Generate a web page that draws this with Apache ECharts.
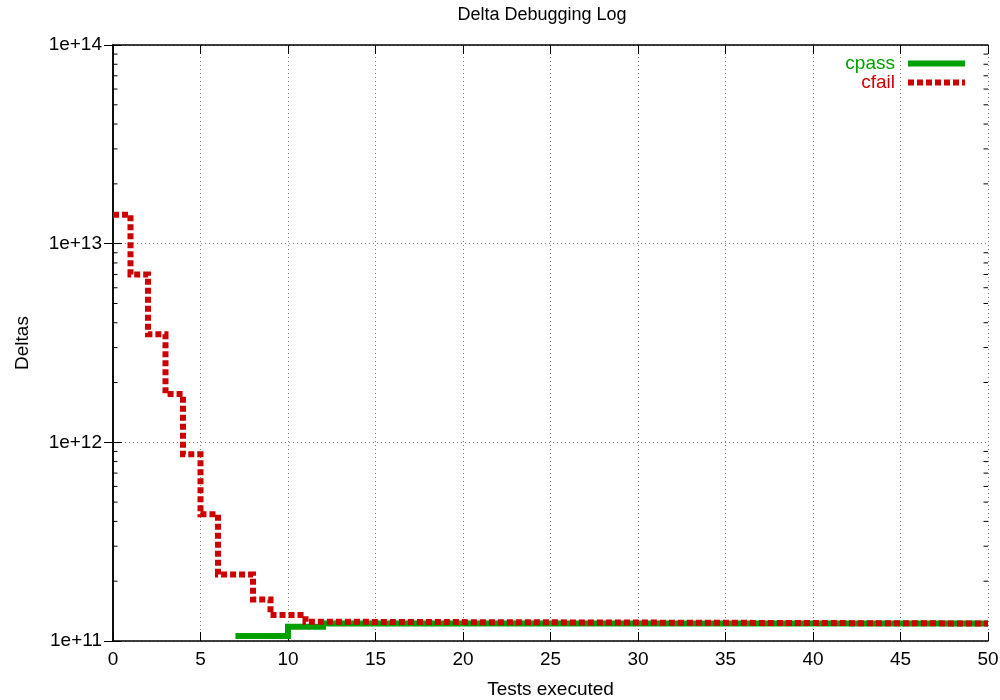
<!DOCTYPE html>
<html>
<head>
<meta charset="utf-8">
<script src="https://cdn.jsdelivr.net/npm/echarts@6/dist/echarts.min.js"></script>
<style>html,body{margin:0;padding:0;background:#fff;}#c{width:1000px;height:700px;}</style>
</head>
<body>
<div id="c"></div>
<script>
// Data (step plot, value holds until next x)
const cpassX = [7, 8, 9, 10, 11, 12, 50];
const cpassY = [1.06e11, 1.06e11, 1.06e11, 1.18e11, 1.18e11, 1.225e11, 1.225e11];
const cfailX = [0, 1, 2, 3, 4, 5, 6, 7, 8, 9, 10, 11, 12, 50];
const cfailY = [1.4e13, 7.0e12, 3.5e12, 1.75e12, 8.7e11, 4.35e11, 2.16e11, 2.16e11, 1.62e11, 1.35e11, 1.35e11, 1.25e11, 1.225e11, 1.225e11];
const minorTickValues = [2e11,3e11,4e11,5e11,6e11,7e11,8e11,9e11,
                         2e12,3e12,4e12,5e12,6e12,7e12,8e12,9e12,
                         2e13,3e13,4e13,5e13,6e13,7e13,8e13,9e13];
const seriesNames = ['cpass', 'cfail'];
const colors = {cpass: '#00a000', cfail: '#cc0000'};

const FONT = 'Liberation Sans';
const FS = 19;

const chart = echarts.init(document.getElementById('c'), null, {renderer: 'canvas'});

const pairs = (xs, ys) => xs.map((x, i) => [x, ys[i]]);

const xBase = {
  type: 'value', min: 0, max: 50, interval: 5,
  axisLine: {show: true, lineStyle: {color: '#000', width: 1.5}},
  axisTick: {show: true, inside: true, length: 9, lineStyle: {color: '#000', width: 1}}
};
const yBase = {
  type: 'log', logBase: 10, min: 1e11, max: 1e14,
  axisLine: {show: true, lineStyle: {color: '#000', width: 1.5}},
  axisTick: {show: true, inside: true, length: 9, lineStyle: {color: '#000', width: 1}}
};

chart.setOption({
  backgroundColor: '#fff',
  animation: false,
  title: {
    text: 'Delta Debugging Log', left: 542, top: 6, textAlign: 'center', padding: 0,
    textStyle: {fontFamily: FONT, fontSize: 18, fontWeight: 'normal', color: '#000'}
  },
  legend: {
    orient: 'vertical', right: 27, top: 49, align: 'right',
    itemWidth: 57, itemHeight: 14, itemGap: 0,
    textStyle: {fontFamily: FONT, fontSize: FS, padding: [0, 8, 0, 0]},
    lineStyle: {width: 6},
    itemStyle: {opacity: 0},
    data: seriesNames.map(n => ({name: n, textStyle: {color: colors[n]}}))
  },
  grid: {left: 113, right: 12, top: 45, bottom: 59, containLabel: false, outerBoundsMode: 'none'},
  xAxis: [
    Object.assign({}, xBase, {
      position: 'bottom',
      name: 'Tests executed', nameLocation: 'middle', nameGap: 39,
      nameTextStyle: {fontFamily: FONT, fontSize: FS, color: '#000'},
      axisLabel: {fontFamily: FONT, fontSize: FS, color: '#000', margin: 9},
      splitLine: {show: true, lineStyle: {type: [1, 3], color: '#777', width: 1}}
    }),
    Object.assign({}, xBase, {position: 'top', axisLabel: {show: false}, splitLine: {show: false}})
  ],
  yAxis: [
    Object.assign({}, yBase, {
      position: 'left',
      name: 'Deltas', nameLocation: 'middle', nameGap: 81,
      nameTextStyle: {fontFamily: FONT, fontSize: FS, color: '#000'},
      axisLabel: {fontFamily: FONT, fontSize: FS, color: '#000', margin: 11,
        formatter: v => '1e+' + Math.round(Math.log10(v))},
      splitLine: {show: true, lineStyle: {type: [1, 3], color: '#777', width: 1}}
    }),
    Object.assign({}, yBase, {position: 'right', axisLabel: {show: false}, splitLine: {show: false}})
  ],
  series: [
    {
      name: 'minorTicks', type: 'custom', xAxisIndex: 0, yAxisIndex: 0,
      silent: true, z: 5,
      data: minorTickValues.map(v => [0, v]),
      renderItem: function (params, api) {
        const cs = params.coordSys;
        const y = api.coord([0, api.value(1)])[1];
        const L = 4.5;
        return {
          type: 'group',
          children: [
            {type: 'line', shape: {x1: cs.x, y1: y, x2: cs.x + L, y2: y}, style: {stroke: '#000', lineWidth: 1}},
            {type: 'line', shape: {x1: cs.x + cs.width - L, y1: y, x2: cs.x + cs.width, y2: y}, style: {stroke: '#000', lineWidth: 1}}
          ]
        };
      }
    },
    {
      name: 'cpass', type: 'line', step: 'end', symbol: 'none',
      data: pairs(cpassX, cpassY), z: 3,
      lineStyle: {color: colors.cpass, width: 6, cap: 'butt', join: 'miter'},
      itemStyle: {color: colors.cpass}
    },
    {
      name: 'cfail', type: 'line', step: 'end', symbol: 'none',
      data: pairs(cfailX, cfailY), z: 4,
      lineStyle: {color: colors.cfail, width: 6, type: [6, 3], cap: 'butt', join: 'miter'},
      itemStyle: {color: colors.cfail}
    }
  ]
});
</script>
</body>
</html>
